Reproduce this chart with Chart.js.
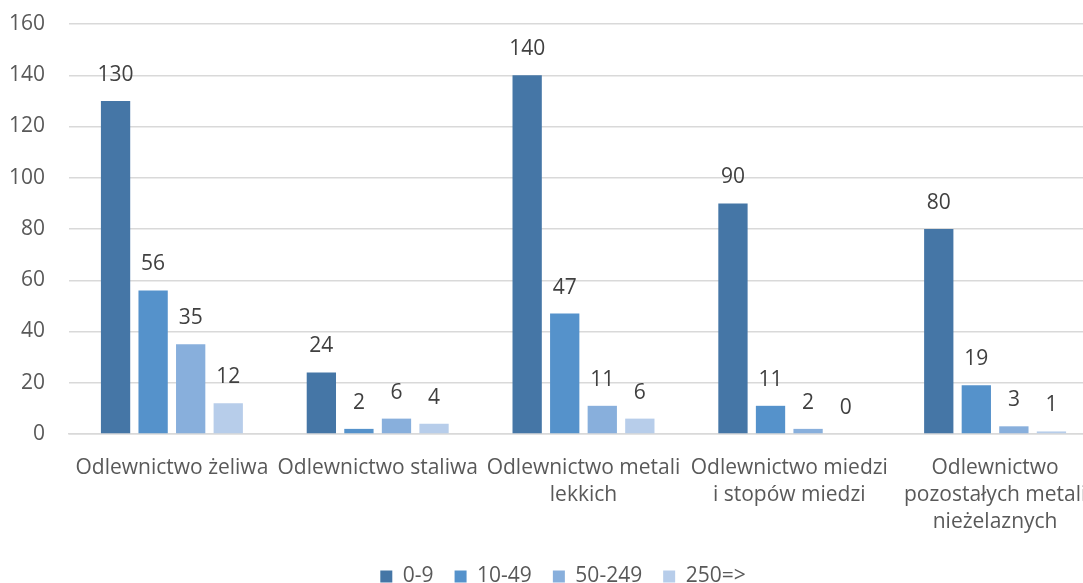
<!DOCTYPE html>
<html>
<head>
<meta charset="utf-8">
<script src="https://cdn.jsdelivr.net/npm/chart.js@4.4.1/dist/chart.umd.min.js"></script>
<style>
  html, body { margin: 0; padding: 0; background: #ffffff; overflow: hidden; }
  #wrap { width: 1083px; height: 583px; overflow: hidden; position: relative; }
  canvas { display: block; }
</style>
</head>
<body>
<div id="wrap"><canvas id="c" width="1126" height="597"></canvas></div>
<script>
// Foundry counts by plant size class
const categories = [
  'Odlewnictwo żeliwa',
  'Odlewnictwo staliwa',
  ['Odlewnictwo metali', 'lekkich'],
  ['Odlewnictwo miedzi', 'i stopów miedzi'],
  ['Odlewnictwo', 'pozostałych metali', 'nieżelaznych']
];
const seriesNames = ['0-9', '10-49', '50-249', '250=>'];
const size0to9 = [130, 24, 140, 90, 80];
const size10to49 = [56, 2, 47, 11, 19];
const size50to249 = [35, 6, 11, 2, 3];
const size250plus = [12, 4, 6, 0, 1];
const yTicks = [0, 20, 40, 60, 80, 100, 120, 140, 160];

const colors = ['#4576a6', '#5592cb', '#88afdc', '#b7cdea'];
const FONT = '"Open Sans", "Noto Sans", sans-serif';
const FS = 21;

// Draws the value above each bar
const valueLabels = {
  id: 'valueLabels',
  afterDatasetsDraw(chart) {
    const ctx = chart.ctx;
    ctx.save();
    ctx.font = FS + 'px ' + FONT;
    ctx.fillStyle = '#404040';
    ctx.textAlign = 'center';
    ctx.textBaseline = 'middle';
    chart.data.datasets.forEach((ds, i) => {
      const meta = chart.getDatasetMeta(i);
      meta.data.forEach((bar, j) => {
        ctx.fillText(String(ds.data[j]), bar.x, bar.y - 26);
      });
    });
    ctx.restore();
  }
};

// Nudges the legend so it sits centred under the whole chart frame
const legendShift = {
  id: 'legendShift',
  afterLayout(chart) {
    const lg = chart.legend;
    if (lg) { lg.left += 9; lg.right += 9; }
  }
};

new Chart(document.getElementById('c'), {
  type: 'bar',
  data: {
    labels: categories,
    datasets: [size0to9, size10to49, size50to249, size250plus].map((d, i) => ({
      label: seriesNames[i],
      data: d,
      backgroundColor: colors[i],
      borderWidth: 0,
      barPercentage: 0.78,
      categoryPercentage: 0.73
    }))
  },
  options: {
    responsive: false,
    devicePixelRatio: 1,
    animation: false,
    layout: { padding: { left: 10, right: 28, top: 24, bottom: 0 } },
    plugins: {
      tooltip: { enabled: false },
      legend: {
        position: 'bottom',
        labels: {
          boxWidth: 12,
          boxHeight: 12,
          padding: 21,
          color: '#595959',
          font: { family: FONT, size: FS }
        }
      }
    },
    scales: {
      x: {
        grid: { display: false, drawTicks: false },
        border: { display: true, color: '#d9d9d9', width: 1.5 },
        ticks: {
          color: '#595959',
          font: { family: FONT, size: FS, lineHeight: 1.3 },
          maxRotation: 0,
          autoSkip: false,
          padding: 20
        },
        afterFit(scale) {
          scale.paddingLeft = 0;
          scale.paddingRight = 0;
          scale.height = 111;
        }
      },
      y: {
        min: 0,
        max: 160,
        afterBuildTicks(scale) { scale.ticks = yTicks.map(v => ({ value: v })); },
        grid: { color: '#d9d9d9', lineWidth: 1.5, drawTicks: false },
        border: { display: false },
        ticks: {
          color: '#595959',
          font: { family: FONT, size: FS },
          padding: 24
        },
        afterFit(scale) {
          scale.paddingTop = 0;
          scale.paddingBottom = 0;
          scale.width = 59;
        }
      }
    }
  },
  plugins: [valueLabels, legendShift]
});
</script>
</body>
</html>
